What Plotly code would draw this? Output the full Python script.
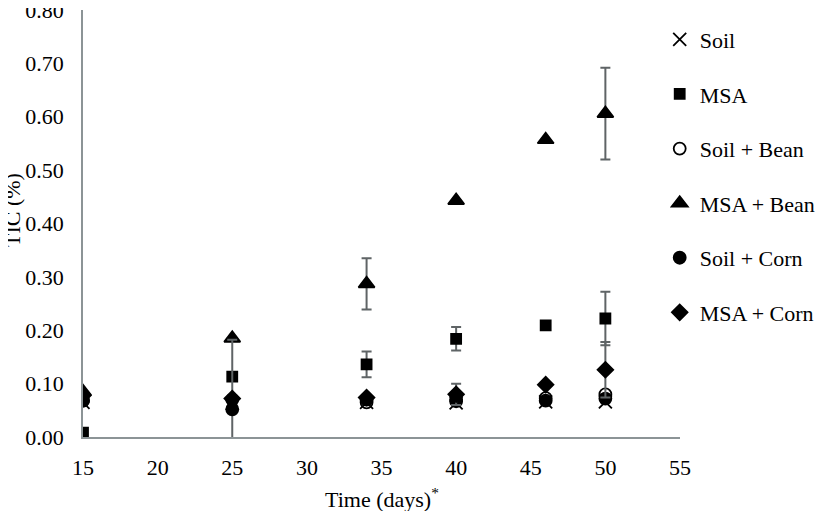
import plotly.graph_objects as go

days = [15, 25, 34, 40, 46, 50]

soil = [0.065, 0.063, 0.065, 0.064, 0.066, 0.066]
msa = [0.008, 0.113, 0.136, 0.184, 0.209, 0.222]
soil_bean = [0.068, 0.070, 0.065, 0.070, 0.073, 0.080]
msa_bean = [0.085, 0.185, 0.287, 0.443, 0.557, 0.606]
soil_corn = [0.068, 0.052, 0.070, 0.067, 0.068, 0.072]
msa_corn = [0.078, 0.072, 0.074, 0.080, 0.098, 0.126]

soil_err = [0, 0, 0, 0, 0, 0]
msa_err = [0, 0, 0.024, 0.022, 0, 0.050]
soil_bean_err = [0, 0, 0, 0, 0, 0]
msa_bean_err = [0, 0, 0.048, 0, 0, 0.086]
soil_corn_err = [0, 0.130, 0, 0, 0, 0]
msa_corn_err = [0, 0, 0, 0.020, 0, 0.052]

series = [
    ("Soil", soil, soil_err, "x-thin-open", 13),
    ("MSA", msa, msa_err, "square", 10),
    ("Soil + Bean", soil_bean, soil_bean_err, "circle-open", 12),
    ("MSA + Bean", msa_bean, msa_bean_err, "triangle-up", 14),
    ("Soil + Corn", soil_corn, soil_corn_err, "circle", 12),
    ("MSA + Corn", msa_corn, msa_corn_err, "diamond", 12),
]

fig = go.Figure()
for i, (name, vals, errs, sym, sz) in enumerate(series):
    fig.add_trace(go.Scatter(
        x=days, y=vals, mode="markers", name=name, legendgroup=f"g{i}",
        marker=dict(symbol=sym, size=sz, color="black",
                    line=dict(color="black", width=1.8)),
        error_y=dict(type="data", array=errs, visible=True, color="#5f6466",
                     thickness=2, width=5),
    ))

font = "Liberation Serif, Times New Roman, serif"
fs = 22
tf = dict(family=font, size=fs, color="black")
fig.update_layout(
    width=826, height=511,
    margin=dict(l=75, r=154, t=2, b=82),
    paper_bgcolor="white", plot_bgcolor="white",
    font=dict(family=font, size=fs, color="black"),
    showlegend=True,
    legend=dict(x=0.966, xanchor="left", y=0.98, yanchor="top",
                tracegroupgap=23, itemwidth=30, maxheight=500,
                font=dict(family=font, size=fs, color="black"),
                bgcolor="rgba(0,0,0,0)"),
    xaxis=dict(range=[15, 55], tickvals=[15, 20, 25, 30, 35, 40, 45, 50, 55],
               showgrid=False, zeroline=False, showline=True, automargin=False,
               linecolor="#8c9496", linewidth=1.5, ticks="",
               tickfont=tf, ticklabelstandoff=10, ticklabeloverflow="allow"),
    yaxis=dict(range=[0, 0.8], tickvals=[0, 0.1, 0.2, 0.3, 0.4, 0.5, 0.6, 0.7, 0.8],
               tickformat=".2f", showgrid=False, zeroline=False, showline=True,
               automargin=False,
               linecolor="#8c9496", linewidth=1.5, ticks="",
               tickfont=tf, ticklabelstandoff=13, ticklabeloverflow="allow"),
    annotations=[
        dict(text="TIC (%)", xref="paper", yref="paper", x=-0.117, y=0.532,
             textangle=-90, showarrow=False, xanchor="center", yanchor="middle",
             font=dict(family=font, size=fs, color="black")),
        dict(text="Time (days)<sup>*</sup>", xref="paper", yref="paper",
             x=0.5, y=-0.143, showarrow=False, xanchor="center", yanchor="middle",
             font=dict(family=font, size=fs, color="black")),
    ],
)

fig.write_html("out.html")
